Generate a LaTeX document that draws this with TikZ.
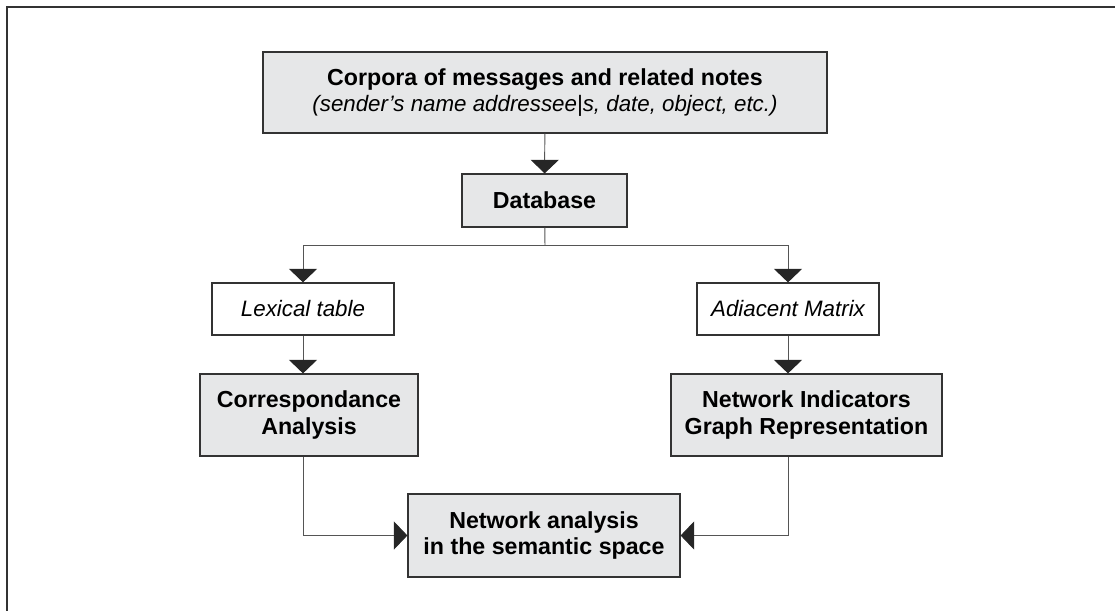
\documentclass[tikz,border=0pt]{standalone}
\usepackage{fontspec}
\setmainfont{Liberation Sans}
\usetikzlibrary{arrows.meta}
\definecolor{boxgray}{HTML}{E6E7E8}
\definecolor{linegray}{HTML}{555555}
\definecolor{framegray}{HTML}{333333}

\begin{document}
\begin{tikzpicture}[
    x=0.02cm, y=-0.02cm,
    box/.style={draw=framegray, line width=0.7pt, fill=boxgray, align=center, inner sep=0pt,
        font=\fontsize{13.2}{14.8}\selectfont\bfseries},
    tbl/.style={draw=framegray, line width=0.7pt, fill=white, align=center, inner sep=0pt,
        minimum width=3.64cm, minimum height=1.04cm, font=\fontsize{12.7}{14.8}\selectfont\itshape},
    link/.style={draw=linegray, line width=0.55pt},
    arr/.style={link, -{Triangle[width=0.56cm, length=0.27cm, color=black!85]}}
]
    \useasboundingbox (0,0) rectangle (1115,611);

    % Outer frame
    \draw[framegray, line width=0.9pt] (7,611) -- (7,7) -- (1115,7);

    % Source and database
    \node[box, minimum width=11.28cm, minimum height=1.62cm] (corpora) at (545,92.5)
        {Corpora of messages and related notes\\
         {\mdseries\itshape\fontsize{12.7}{14.8}\selectfont (sender's name addressee|s, date, object, etc.)}};
    \node[box, minimum width=3.3cm, minimum height=1.06cm] (db) at (544.5,200.5) {Database};
    \coordinate (split) at (545,245);

    % Tables
    \node[tbl] (lex) at (303,309) {Lexical table};
    \node[tbl] (adj) at (788,309) {Adiacent Matrix};

    % Analyses
    \node[box, minimum width=4.36cm, minimum height=1.64cm] (corr) at (309,415) {Correspondance\\Analysis};
    \node[box, minimum width=5.42cm, minimum height=1.64cm] (ni) at (806.5,415) {Network Indicators\\Graph Representation};

    % Result
    \node[box, minimum width=5.44cm, minimum height=1.66cm] (net) at (544,535.5) {Network analysis\\in the semantic space};

    % Connections
    \draw[arr] (corpora) -- (db);
    \draw[link] (db) -- (split);
    \foreach \t in {lex,adj}
        \draw[arr] (split) -| (\t);
    \foreach \a/\b in {lex/corr, adj/ni}
        \draw[arr] (\a) -- (\a |- \b.north);
    \draw[arr] (lex |- corr.south) |- (net);
    \draw[arr] (adj |- ni.south) |- (net);

\end{tikzpicture}
\end{document}
